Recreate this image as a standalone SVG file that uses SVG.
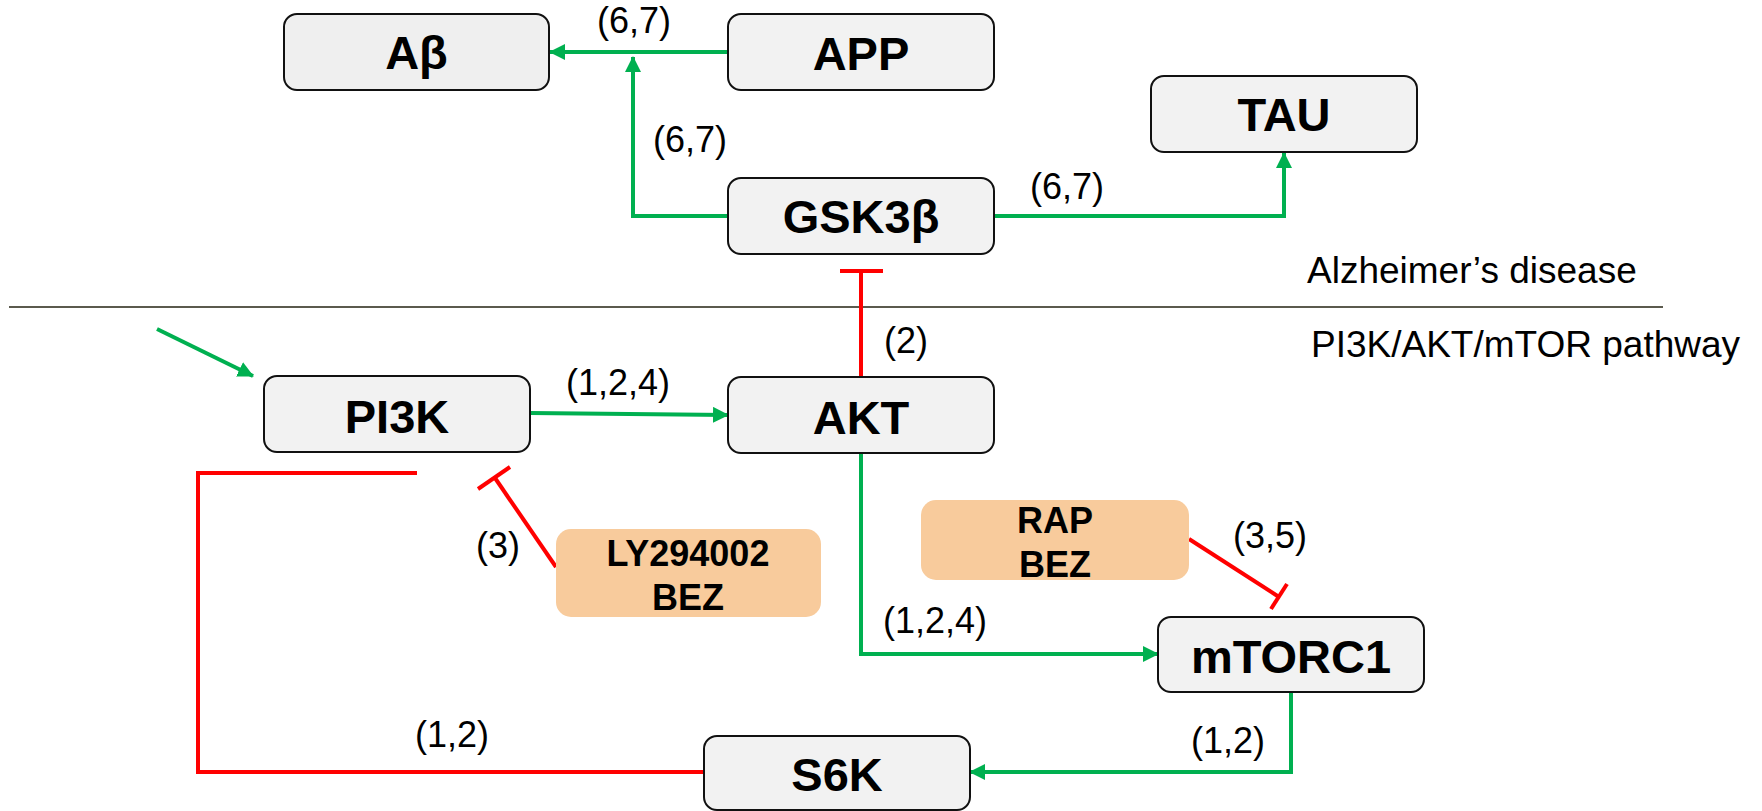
<svg xmlns="http://www.w3.org/2000/svg" width="1762" height="811" viewBox="0 0 1762 811">
  <defs>
    <style>
      .node rect { fill: #f2f2f2; stroke: #111; stroke-width: 2; }
      .drug rect { fill: #f8cb9c; stroke: none; }
      .name { font-family: "Liberation Sans", Arial, sans-serif; font-weight: bold; font-size: 47px; fill: #000; text-anchor: middle; }
      .drugname { font-family: "Liberation Sans", Arial, sans-serif; font-weight: bold; font-size: 36px; fill: #000; text-anchor: middle; }
      .lbl { font-family: "Liberation Sans", Arial, sans-serif; font-size: 36px; fill: #000; text-anchor: middle; }
      .legend { font-family: "Liberation Sans", Arial, sans-serif; font-size: 37px; fill: #000; }
      .act { fill: none; stroke: #00b050; stroke-width: 4; }
      .inh { fill: none; stroke: #ff0000; stroke-width: 4; }
    </style>
    <marker id="arrow" markerUnits="userSpaceOnUse" markerWidth="16" markerHeight="16" viewBox="0 0 16 16" refX="15" refY="8" orient="auto">
      <path d="M0,0 L16,8 L0,16 Z" fill="#00b050"/>
    </marker>
  </defs>

  <rect x="0" y="0" width="1762" height="811" fill="#fff"/>

  <!-- divider between the two sections -->
  <g id="divider">
    <line x1="9" y1="307" x2="1663" y2="307" stroke="#5b5a4e" stroke-width="2"/>
    <text class="legend" x="1307" y="283">Alzheimer’s disease</text>
    <text class="legend" x="1311" y="357">PI3K/AKT/mTOR pathway</text>
  </g>

  <!-- connectors -->
  <g id="connectors">
    <line class="act" x1="728" y1="52" x2="550" y2="52" marker-end="url(#arrow)"/>
    <polyline class="act" points="728,216 633,216 633,57" marker-end="url(#arrow)"/>
    <polyline class="act" points="994,216 1284,216 1284,153" marker-end="url(#arrow)"/>
    <line class="inh" x1="861" y1="377" x2="861" y2="271"/>
    <line class="inh" x1="840" y1="271" x2="883" y2="271"/>
    <line class="act" x1="157" y1="329" x2="253" y2="376" marker-end="url(#arrow)"/>
    <line class="act" x1="530" y1="413" x2="728" y2="415" marker-end="url(#arrow)"/>
    <line class="inh" x1="556" y1="567" x2="495" y2="478"/>
    <line class="inh" x1="478" y1="489" x2="510" y2="467"/>
    <polyline class="act" points="861,453 861,654 1158,654" marker-end="url(#arrow)"/>
    <line class="inh" x1="1189" y1="539" x2="1279" y2="597"/>
    <line class="inh" x1="1287" y1="584" x2="1271" y2="609"/>
    <polyline class="act" points="1291,692 1291,772 970,772" marker-end="url(#arrow)"/>
    <polyline class="inh" points="704,772 198,772 198,473 417,473"/>

    <text class="lbl" x="634" y="33">(6,7)</text>
    <text class="lbl" x="690" y="152">(6,7)</text>
    <text class="lbl" x="1067" y="199">(6,7)</text>
    <text class="lbl" x="906" y="353">(2)</text>
    <text class="lbl" x="618" y="395">(1,2,4)</text>
    <text class="lbl" x="498" y="558">(3)</text>
    <text class="lbl" x="1270" y="548">(3,5)</text>
    <text class="lbl" x="935" y="633">(1,2,4)</text>
    <text class="lbl" x="1228" y="753">(1,2)</text>
    <text class="lbl" x="452" y="747">(1,2)</text>
  </g>

  <!-- nodes -->
  <g id="abeta" class="node">
    <rect x="284" y="14" width="265" height="76" rx="13" style="fill:#efefef"/>
    <text class="name" x="416.5" y="69">Aβ</text>
  </g>
  <g id="app" class="node">
    <rect x="728" y="14" width="266" height="76" rx="13"/>
    <text class="name" x="861" y="70">APP</text>
  </g>
  <g id="tau" class="node">
    <rect x="1151" y="76" width="266" height="76" rx="13"/>
    <text class="name" x="1284" y="131">TAU</text>
  </g>
  <g id="gsk3b" class="node">
    <rect x="728" y="178" width="266" height="76" rx="13"/>
    <text class="name" x="861" y="233">GSK3β</text>
  </g>
  <g id="pi3k" class="node">
    <rect x="264" y="376" width="266" height="76" rx="13"/>
    <text class="name" x="397" y="433">PI3K</text>
  </g>
  <g id="akt" class="node">
    <rect x="728" y="377" width="266" height="76" rx="13"/>
    <text class="name" x="861" y="434">AKT</text>
  </g>
  <g id="mtorc1" class="node">
    <rect x="1158" y="617" width="266" height="75" rx="13"/>
    <text class="name" x="1291" y="673">mTORC1</text>
  </g>
  <g id="s6k" class="node">
    <rect x="704" y="736" width="266" height="74" rx="13"/>
    <text class="name" x="837" y="791">S6K</text>
  </g>
  <g id="ly294002" class="drug">
    <rect x="556" y="529" width="265" height="88" rx="15"/>
    <text class="drugname" x="688" y="566">LY294002</text>
    <text class="drugname" x="688" y="610">BEZ</text>
  </g>
  <g id="rap" class="drug">
    <rect x="921" y="500" width="268" height="80" rx="15"/>
    <text class="drugname" x="1055" y="533">RAP</text>
    <text class="drugname" x="1055" y="577">BEZ</text>
  </g>
</svg>
